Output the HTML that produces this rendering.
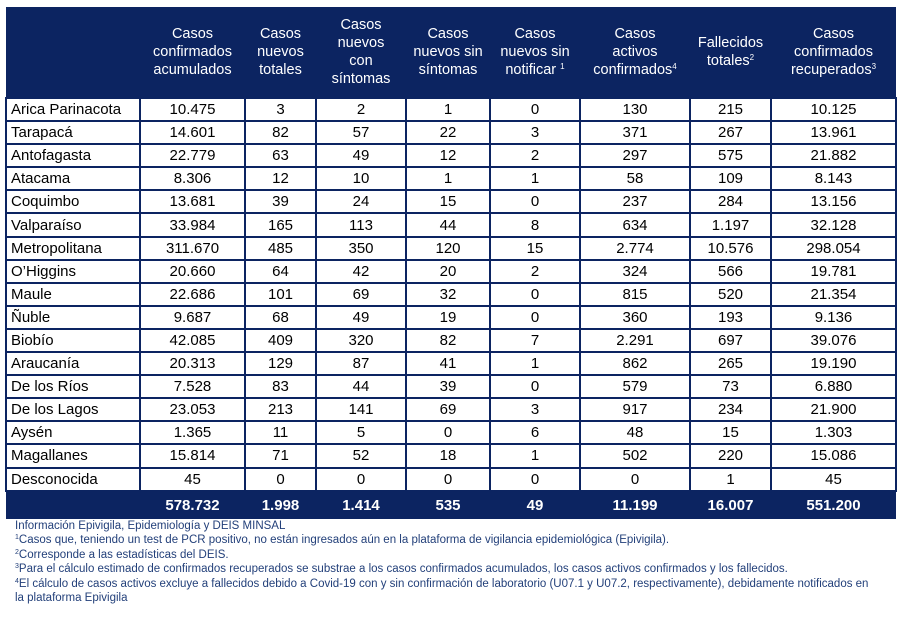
<!DOCTYPE html>
<html><head><meta charset="utf-8"><style>
body{margin:0;width:900px;height:620px;background:#fff;position:relative;overflow:hidden;font-family:"Liberation Sans",sans-serif}
table{position:absolute;left:5px;top:7px;border-collapse:collapse;table-layout:fixed;width:890px}
th{background:#0c2461;color:#fff;font-weight:normal;font-size:14.5px;line-height:18px;height:90px;padding:0;text-align:center;border:none}
sup{font-size:8px;line-height:0;vertical-align:0;position:relative;top:-5px}
tr.d{height:23.1px}
td{border:2px solid #0c2461;padding:0;font-size:15px;text-align:center;color:#000;line-height:19px;white-space:nowrap}
td.r{text-align:left;padding-left:4px}
tr.tot{height:28px}
tr.tot td{background:#0c2461;color:#fff;font-weight:bold;font-size:15px}
.notes{position:absolute;left:15px;top:519px;font-size:11.5px;line-height:14.4px;color:#23407a;white-space:nowrap}
.notes sup{font-size:7px;top:-4px}
</style></head><body>
<table>
<colgroup><col style="width:134px"><col style="width:105px"><col style="width:71px"><col style="width:90px"><col style="width:84px"><col style="width:90px"><col style="width:110px"><col style="width:81px"><col style="width:125px"></colgroup>
<tr>
<th></th>
<th>Casos<br>confirmados<br>acumulados</th>
<th>Casos<br>nuevos<br>totales</th>
<th>Casos<br>nuevos<br>con<br>síntomas</th>
<th>Casos<br>nuevos sin<br>síntomas</th>
<th>Casos<br>nuevos sin<br>notificar <sup>1</sup></th>
<th>Casos<br>activos<br>confirmados<sup>4</sup></th>
<th>Fallecidos<br>totales<sup>2</sup></th>
<th>Casos<br>confirmados<br>recuperados<sup>3</sup></th>
</tr>
<tbody id="tb"></tbody>
</table>
<div class="notes">
<div>Información Epivigila, Epidemiología y DEIS MINSAL</div>
<div><sup>1</sup>Casos que, teniendo un test de PCR positivo, no están ingresados aún en la plataforma de vigilancia epidemiológica (Epivigila).</div>
<div><sup>2</sup>Corresponde a las estadísticas del DEIS.</div>
<div><sup>3</sup>Para el cálculo estimado de confirmados recuperados se substrae a los casos confirmados acumulados, los casos activos confirmados y los fallecidos.</div>
<div><sup>4</sup>El cálculo de casos activos excluye a fallecidos debido a Covid-19 con y sin confirmación de laboratorio (U07.1 y U07.2, respectivamente), debidamente notificados en<br>la plataforma Epivigila</div>
</div>
<script>
const regions=["Arica Parinacota","Tarapacá","Antofagasta","Atacama","Coquimbo","Valparaíso","Metropolitana","O’Higgins","Maule","Ñuble","Biobío","Araucanía","De los Ríos","De los Lagos","Aysén","Magallanes","Desconocida"];
const confirmed=["10.475","14.601","22.779","8.306","13.681","33.984","311.670","20.660","22.686","9.687","42.085","20.313","7.528","23.053","1.365","15.814","45"];
const newTotal=["3","82","63","12","39","165","485","64","101","68","409","129","83","213","11","71","0"];
const newSym=["2","57","49","10","24","113","350","42","69","49","320","87","44","141","5","52","0"];
const newNoSym=["1","22","12","1","15","44","120","20","32","19","82","41","39","69","0","18","0"];
const unreported=["0","3","2","1","0","8","15","2","0","0","7","1","0","3","6","1","0"];
const active=["130","371","297","58","237","634","2.774","324","815","360","2.291","862","579","917","48","502","0"];
const deaths=["215","267","575","109","284","1.197","10.576","566","520","193","697","265","73","234","15","220","1"];
const recovered=["10.125","13.961","21.882","8.143","13.156","32.128","298.054","19.781","21.354","9.136","39.076","19.190","6.880","21.900","1.303","15.086","45"];
const totals=["","578.732","1.998","1.414","535","49","11.199","16.007","551.200"];
const tb=document.getElementById('tb');
regions.forEach((r,i)=>{
  const tr=document.createElement('tr');tr.className='d';
  
  
  [r,confirmed[i],newTotal[i],newSym[i],newNoSym[i],unreported[i],active[i],deaths[i],recovered[i]].forEach((v,j)=>{
    const td=document.createElement('td');
    
    
    if(j===0)td.className='r';
    td.textContent=v;tr.appendChild(td);
  });
  tb.appendChild(tr);
});
const tt=document.createElement('tr');tt.className='tot';


totals.forEach(v=>{const td=document.createElement('td');


td.style.border='none';td.textContent=v;tt.appendChild(td);});
tb.appendChild(tt);
</script>
</body></html>
